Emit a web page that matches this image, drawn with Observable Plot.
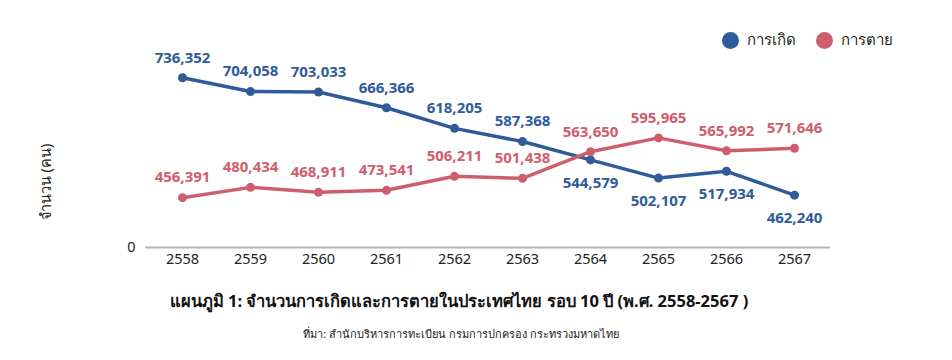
<!DOCTYPE html>
<html>
<head>
<meta charset="utf-8">
<script src="https://cdn.jsdelivr.net/npm/d3@7"></script>
<script src="https://cdn.jsdelivr.net/npm/@observablehq/plot@0.6"></script>
<style>
  body { margin: 0; background: #fff; font-family: "Noto Sans", sans-serif; }
  #wrap { position: relative; width: 952px; height: 360px; }
  #legend { position: absolute; top: 28px; left: 722px; display: flex; gap: 20px; font-size: 15px; color: #222; }
  #legend span.item { display: flex; align-items: center; gap: 8px; }
  #legend span.sw { width: 17px; height: 17px; border-radius: 50%; display: inline-block; }
  #ylabel { position: absolute; left: 45px; top: 182px; transform: translate(-50%, -50%) rotate(-90deg); font-size: 14.5px; color: #222; white-space: nowrap; }
  #title { position: absolute; top: 288px; left: 0; width: 918px; text-align: center; font-weight: bold; font-size: 16.5px; color: #111; }
  #caption { position: absolute; top: 325px; left: 0; width: 922px; text-align: center; font-size: 11px; color: #222; }
</style>
</head>
<body>
<div id="wrap">
  <div id="chart"></div>
  <div id="legend"></div>
  <div id="ylabel"></div>
  <div id="title">แผนภูมิ 1: จำนวนการเกิดและการตายในประเทศไทย รอบ 10 ปี (พ.ศ. 2558-2567 )</div>
  <div id="caption">ที่มา: สำนักบริหารการทะเบียน กรมการปกครอง กระทรวงมหาดไทย</div>
</div>
<script>
const years = [2558, 2559, 2560, 2561, 2562, 2563, 2564, 2565, 2566, 2567];
const births = [736352, 704058, 703033, 666366, 618205, 587368, 544579, 502107, 517934, 462240];
const deaths = [456391, 480434, 468911, 473541, 506211, 501438, 563650, 595965, 565992, 571646];
const birthLabelBelow = [false, false, false, false, false, false, true, true, true, true];
const seriesNames = ["การเกิด", "การตาย"];
const seriesColors = ["#2f5b9a", "#cf5e6c"];
const yLabel = "จำนวน (คน)";
const yTicks = [340000];
const yTickLabels = ["0"];

const rows = [];
years.forEach((y, i) => {
  rows.push({year: y, value: births[i], series: seriesNames[0], below: birthLabelBelow[i]});
  rows.push({year: y, value: deaths[i], series: seriesNames[1], below: false});
});
const fmt = d3.format(",");

const chart = Plot.plot({
  width: 952,
  height: 275,
  marginLeft: 145,
  marginRight: 122,
  marginTop: 50,
  marginBottom: 28,
  style: {fontFamily: "Noto Sans, sans-serif", fontSize: "14px", color: "#222", background: "transparent"},
  x: {type: "point", domain: years, padding: 0.48, label: null},
  y: {domain: [340000, 800000], label: null},
  color: {domain: seriesNames, range: seriesColors},
  marks: [
    Plot.ruleY([340000], {stroke: "#b3b3b3", strokeWidth: 2}),
    Plot.axisX({tickSize: 0, tickPadding: 6, fontSize: 14.5, tickFormat: d => String(d), label: null}),
    Plot.axisY(yTicks, {tickSize: 0, tickPadding: 10, fontSize: 14.5, tickFormat: (d, i) => yTickLabels[i], label: null}),
    Plot.line(rows, {x: "year", y: "value", z: "series", stroke: "series", strokeWidth: 3.5}),
    Plot.dot(rows, {x: "year", y: "value", fill: "series", r: 4.5}),
    Plot.text(rows.filter(d => !d.below), {x: "year", y: "value", text: d => fmt(d.value), fill: "series",
      dy: -20, fontWeight: "bold", fontSize: 15}),
    Plot.text(rows.filter(d => d.below), {x: "year", y: "value", text: d => fmt(d.value), fill: "series",
      dy: 23, fontWeight: "bold", fontSize: 15})
  ]
});
document.getElementById("chart").appendChild(chart);
document.getElementById("ylabel").textContent = yLabel;

const legend = document.getElementById("legend");
seriesNames.forEach((n, i) => {
  const item = document.createElement("span");
  item.className = "item";
  const sw = document.createElement("span");
  sw.className = "sw";
  sw.style.background = seriesColors[i];
  item.appendChild(sw);
  item.appendChild(document.createTextNode(n));
  legend.appendChild(item);
});
</script>
</body>
</html>
